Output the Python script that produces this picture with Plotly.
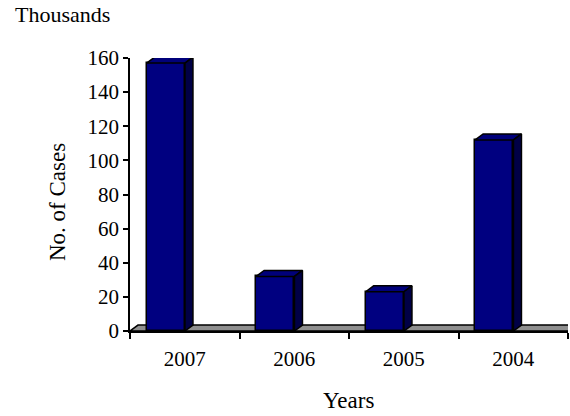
import plotly.graph_objects as go

# ---- data ----
years = ["2007", "2006", "2005", "2004"]
cases = [157, 32, 23, 112]          # No. of cases, in thousands
y_ticks = [0, 20, 40, 60, 80, 100, 120, 140, 160]

# ---- 3D look (style) ----
pos = list(range(len(years)))
shift = -0.173      # front face offset inside the category
bw = 0.35           # bar width (category units)
dx = 0.073          # depth offset in x (category units)
dy = 3.5            # depth offset in y (data units)
FRONT = "#000080"
TOP = "#00007a"
SIDE = "#000046"
FONT = "Liberation Serif"

fig = go.Figure()

fig.add_trace(go.Bar(
    x=[p + shift for p in pos], y=cases, width=bw,
    marker=dict(color=FRONT, line=dict(color="black", width=1.5)),
    hoverinfo="skip", showlegend=False,
))

for p, v in zip(pos, cases):
    x0 = p + shift - bw / 2
    x1 = p + shift + bw / 2
    fig.add_trace(go.Scatter(
        x=[x0, x1, x1 + dx, x0 + dx, x0], y=[v, v, v + dy, v + dy, v],
        fill="toself", fillcolor=TOP, mode="lines",
        line=dict(color="black", width=1.5), cliponaxis=False,
        hoverinfo="skip", showlegend=False,
    ))
    fig.add_trace(go.Scatter(
        x=[x1, x1 + dx, x1 + dx, x1, x1], y=[0, dy, v + dy, v, 0],
        fill="toself", fillcolor=SIDE, mode="lines",
        line=dict(color="black", width=1.5), cliponaxis=False,
        hoverinfo="skip", showlegend=False,
    ))

xmin, xmax = -0.5, len(years) - 0.5
fig.add_shape(
    type="path", xref="x", yref="y", layer="below",
    path=f"M {xmin},0 L {xmax},0 L {xmax + dx},{dy} L {xmin + dx},{dy} Z",
    fillcolor="#8f8f8f", line=dict(color="black", width=1.5),
)

# plot area at x 130..568, y 58..331
fig.update_layout(
    width=570, height=416,
    margin=dict(l=130, r=2, t=58, b=85),
    paper_bgcolor="white", plot_bgcolor="white",
    font=dict(family=FONT, size=21, color="black"),
    bargap=0,
    xaxis=dict(
        range=[xmin, xmax], tickvals=pos, ticktext=years,
        ticks="outside", ticklen=8, tickcolor="rgba(0,0,0,0)",
        showgrid=False, zeroline=False, showline=True,
        linecolor="black", linewidth=1.5,
        minor=dict(tickvals=[xmin + i for i in range(len(years) + 1)],
                   ticks="outside", ticklen=6, tickcolor="black", tickwidth=1.5,
                   showgrid=False),
        tickfont=dict(family=FONT, size=21),
    ),
    yaxis=dict(
        range=[0, 160], tickvals=y_ticks,
        ticks="outside", ticklen=5, tickcolor="black", tickwidth=1.5,
        showgrid=False, zeroline=False, showline=True,
        linecolor="black", linewidth=1.5,
        tickfont=dict(family=FONT, size=21),
    ),
    annotations=[
        dict(text="Thousands", xref="paper", yref="paper",
             x=(13 - 130) / 438, y=(331 - 15) / 273,
             xanchor="left", yanchor="middle", showarrow=False,
             font=dict(family=FONT, size=22)),
        dict(text="No. of Cases", xref="paper", yref="paper",
             x=(57 - 130) / 438, y=(331 - 202) / 273, textangle=-90,
             xanchor="center", yanchor="middle", showarrow=False,
             font=dict(family=FONT, size=23)),
        dict(text="Years", xref="paper", yref="paper",
             x=(348 - 130) / 438, y=(331 - 400) / 273,
             xanchor="center", yanchor="middle", showarrow=False,
             font=dict(family=FONT, size=23)),
    ],
)

fig.write_html("out.html",
               config={"displayModeBar": False},
               post_script="document.body.style.margin='0px';")
